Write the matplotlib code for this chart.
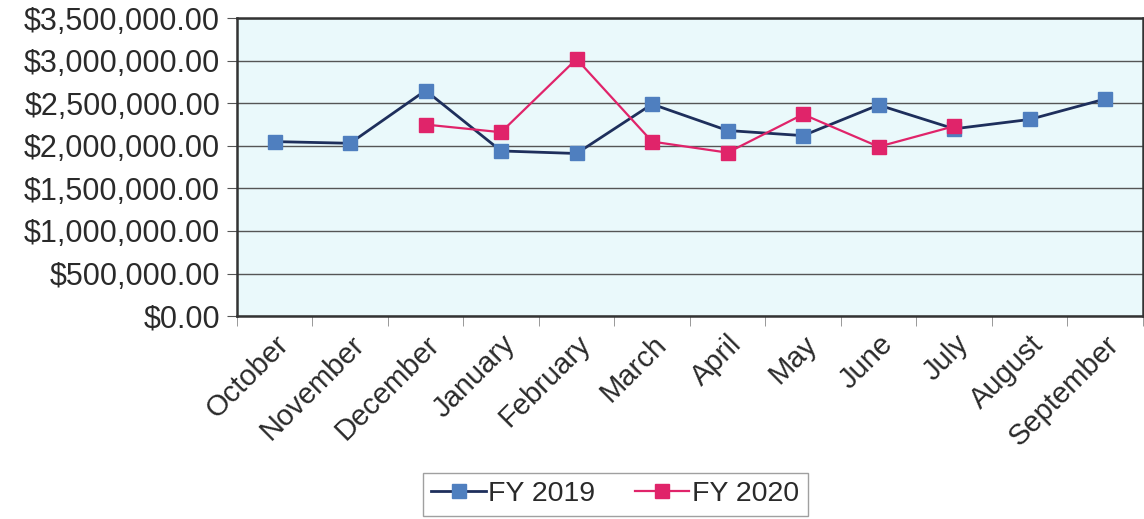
import numpy as np
from matplotlib import pyplot as plt
from matplotlib import rcParams
from matplotlib.ticker import FuncFormatter, FixedLocator

textcolor = "#2a2a2a"

rcParams["font.family"] = ["Liberation Sans", "DejaVu Sans"]
rcParams["text.color"] = textcolor
rcParams["xtick.color"] = textcolor
rcParams["ytick.color"] = textcolor

months = ["October", "November", "December", "January", "February", "March",
          "April", "May", "June", "July", "August", "September"]
fy2019 = [2050000, 2030000, 2650000, 1940000, 1910000, 2490000,
          2180000, 2120000, 2480000, 2200000, 2310000, 2550000]
fy2020 = [np.nan, np.nan, 2250000, 2160000, 3020000, 2050000,
          1920000, 2370000, 1990000, 2230000, np.nan, np.nan]

fig = plt.figure(figsize=(11.44, 5.19), dpi=100)
ax = fig.add_axes([0.207, 0.391, 0.792, 0.574])
ax.set_facecolor("#eaf9fb")

x = np.arange(len(months))
ax.plot(x, fy2019, color="#1e2f5c", linewidth=2, marker="s", markersize=9.5,
        markerfacecolor="#4f7fbf", markeredgecolor="#4f7fbf", label="FY 2019", zorder=3)
ax.plot(x, fy2020, color="#e0246a", linewidth=1.6, marker="s", markersize=9.5,
        markerfacecolor="#e0246a", markeredgecolor="#e0246a", label="FY 2020", zorder=4)

ax.set_xlim(-0.5, len(months) - 0.5)
ax.set_ylim(0, 3500000)
ax.set_yticks(np.arange(0, 3500001, 500000))
ax.yaxis.set_major_formatter(FuncFormatter(lambda v, p: "${:,.2f}".format(v)))
ax.grid(axis="y", color="#555555", linewidth=1)
ax.set_axisbelow(True)

ax.set_xticks(x)
ax.set_xticklabels(months, rotation=45, ha="right", rotation_mode="anchor", fontsize=21)
ax.tick_params(axis="x", length=0, pad=10)
ax.xaxis.set_minor_locator(FixedLocator(np.arange(-0.5, len(months), 1)))
ax.tick_params(axis="x", which="minor", length=7, color="#888888", direction="out")
ax.tick_params(axis="y", labelsize=22, length=7, color="#555555", pad=5)

for side in ["top", "bottom", "left", "right"]:
    ax.spines[side].set_color("#333333")
    ax.spines[side].set_linewidth(1.8)

fig.legend(loc="center", bbox_to_anchor=(0.538, 0.048), ncol=2, fontsize=20.5,
           frameon=True, fancybox=False, edgecolor="#888888", handlelength=1.9,
           handletextpad=0.1, columnspacing=1.4, borderpad=0.3, borderaxespad=0)

fig.savefig("out.png", dpi=100)
